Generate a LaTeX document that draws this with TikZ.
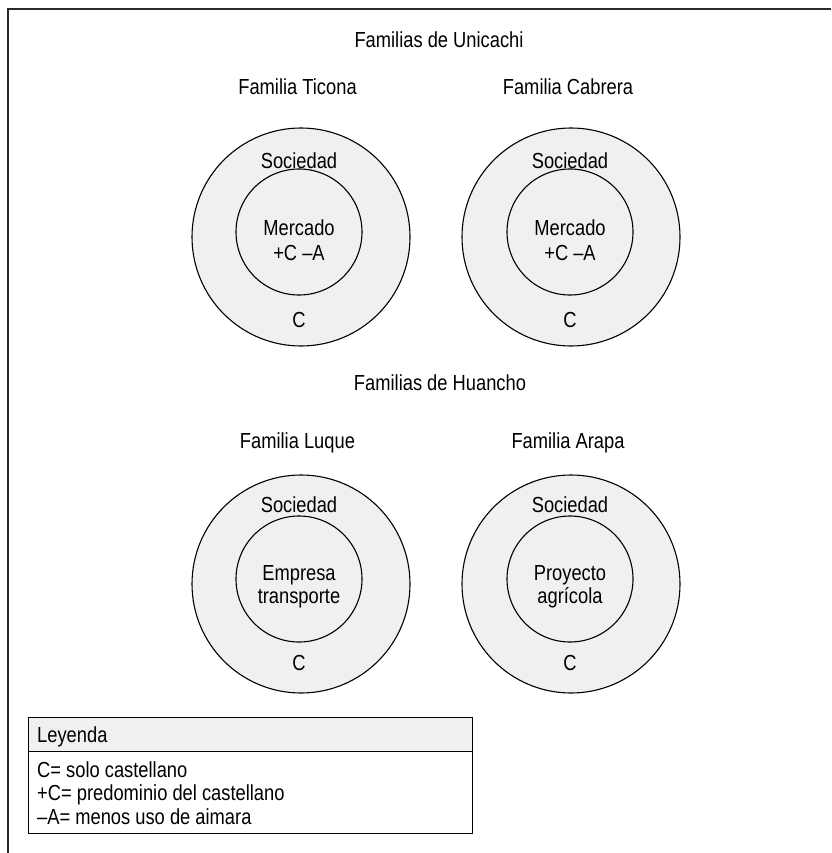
\documentclass[tikz,border=0pt]{standalone}
\usepackage{fontspec}
\setmainfont{Liberation Sans}[FakeStretch=0.84]
\definecolor{ringgray}{HTML}{F0F0F0}
\definecolor{framegray}{HTML}{2A2A2A}
\begin{document}
\begin{tikzpicture}[x=1pt,y=-1pt,
  txt/.style={font=\fontsize{21.8}{23.5}\selectfont, inner sep=0pt, anchor=base},
  ltxt/.style={txt, anchor=base west},
  ring/.style={circle, draw=black, fill=ringgray, line width=1.1pt, minimum size=218pt, inner sep=0pt},
  core/.style={circle, draw=black, fill=ringgray, line width=1.1pt, minimum size=126pt, inner sep=0pt},
  legendbox/.style={draw=black, line width=1pt}]
\useasboundingbox (0,0) rectangle (831,853);

% open frame: top and left edges only
\draw[framegray, line width=1.8pt] (7.8,853) -- (7.8,9) -- (831,9);

% --- Unicachi ---
\node[txt] (tUni) at (439,47.3) {Familias de Unicachi};
\node[txt] (tTic) at (297.5,95) {Familia Ticona};
\node[txt] (tCab) at (568,95) {Familia Cabrera};

\node[ring] (ringTic) at (301,237) {};
\node[core] (coreTic) at (299,232) {};
\node[txt] (socTic) at (299,168) {Sociedad};
\node[txt] (merTic) at (299,235) {Mercado};
\node[txt] (cmaTic) at (299,260) {+C –A};
\node[txt] (cTic) at (299,327) {C};

\node[ring] (ringCab) at (571,237) {};
\node[core] (coreCab) at (570,232) {};
\node[txt] (socCab) at (570,168) {Sociedad};
\node[txt] (merCab) at (570,235) {Mercado};
\node[txt] (cmaCab) at (570,260) {+C –A};
\node[txt] (cCab) at (570,327) {C};

% --- Huancho ---
\node[txt] (tHua) at (440,390) {Familias de Huancho};
\node[txt] (tLuq) at (297.5,448) {Familia Luque};
\node[txt] (tAra) at (568,448) {Familia Arapa};

\node[ring] (ringLuq) at (301,584) {};
\node[core] (coreLuq) at (299,579) {};
\node[txt] (socLuq) at (299,512) {Sociedad};
\node[txt] (empLuq) at (299,580) {Empresa};
\node[txt] (traLuq) at (299,603) {transporte};
\node[txt] (cLuq) at (299,670) {C};

\node[ring] (ringAra) at (571,584) {};
\node[core] (coreAra) at (570,579) {};
\node[txt] (socAra) at (570,512) {Sociedad};
\node[txt] (proAra) at (570,580) {Proyecto};
\node[txt] (agrAra) at (570,603) {agrícola};
\node[txt] (cAra) at (570,670) {C};

% --- legend ---
\fill[ringgray] (28,717) rectangle (472,751);
\draw[legendbox] (28,717) rectangle (472,833);
\draw[legendbox] (28,751) -- (472,751);
\node[ltxt] (legHead) at (37,742) {Leyenda};
\node[ltxt] (legC) at (37,777) {C= solo castellano};
\node[ltxt] (legPC) at (37,800) {+C= predominio del castellano};
\node[ltxt] (legMA) at (37,824) {–A= menos uso de aimara};
\end{tikzpicture}
\end{document}
